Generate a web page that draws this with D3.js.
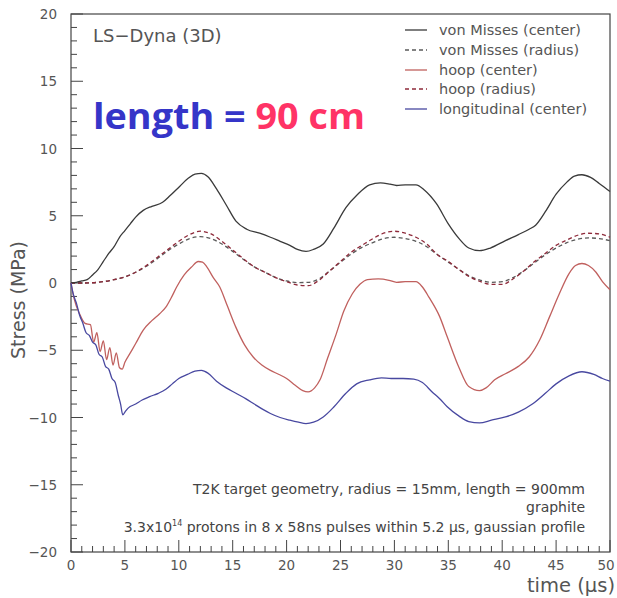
<!DOCTYPE html>
<html><head><meta charset="utf-8">
<script src="https://cdn.jsdelivr.net/npm/d3@7/dist/d3.min.js"></script>
<style>body{margin:0;background:#fff}svg{display:block}</style>
</head><body><svg id="c" width="617" height="598"></svg>
<script>
const seriesNames = ["von Misses (center)","von Misses (radius)","hoop (center)","hoop (radius)","longitudinal (center)"];
const xTicks = [0,5,10,15,20,25,30,35,40,45,50];
const yTicks = [-20,-15,-10,-5,0,5,10,15,20];

const vmCenterT = [0,0.5,1,1.5,2,2.5,3,3.5,4,4.5,5,5.5,6,6.7,7.5,8.5,9.2,10.1,10.9,11.5,12.1,12.7,13.5,14.4,15.3,16.3,17.5,18.5,19.4,20.3,21,21.8,22.5,23.4,24.4,25.5,26.6,27.7,28.7,29.6,30.2,31,32,32.8,33.9,35,36,36.9,37.9,38.9,40.3,41.5,42.5,43.1,44,45,46,46.7,47.4,48.2,49,50];
const vmCenterV = [0,0.05,0.15,0.25,0.6,1.0,1.6,2.2,2.7,3.4,3.9,4.4,4.9,5.4,5.7,6.0,6.5,7.2,7.8,8.1,8.15,7.9,7.0,5.8,4.6,4.0,3.7,3.4,3.1,2.8,2.5,2.35,2.5,2.9,4.1,5.6,6.6,7.3,7.45,7.35,7.25,7.3,7.3,6.9,5.9,4.4,3.3,2.6,2.4,2.6,3.15,3.6,4.0,4.3,5.3,6.6,7.5,7.95,8.05,7.85,7.4,6.8];

const radT = [0,1,2,3,4,5,6,7,8,9,10,11,12,13,14,15,16,17,18,19,20,21,22,23,24,25,26,27,28,29,30,31,32,33,34,35,36,37,38,39,40,41,42,43,44,45,46,47,48,49,50];
const vmRadiusV = [0,0,0.02,0.1,0.25,0.45,0.8,1.25,1.8,2.4,2.9,3.3,3.45,3.3,2.9,2.35,1.75,1.2,0.8,0.4,0.15,0.03,0.05,0.3,0.9,1.55,2.15,2.65,3.0,3.3,3.4,3.3,3.1,2.7,2.1,1.55,1.0,0.5,0.2,0.05,0.1,0.4,0.9,1.5,2.1,2.6,3.0,3.25,3.35,3.3,3.15];
const hoopRadiusV = [0,0,0.02,0.1,0.25,0.45,0.8,1.3,1.9,2.5,3.1,3.6,3.85,3.65,3.1,2.45,1.8,1.2,0.8,0.4,0.1,-0.15,-0.2,0.2,0.9,1.6,2.3,2.8,3.3,3.7,3.85,3.7,3.4,2.9,2.1,1.6,1.0,0.45,0.1,-0.1,-0.1,0.3,0.9,1.6,2.2,2.8,3.2,3.55,3.7,3.65,3.4];

const hoopCenterT = [0,0.3,0.8,1.3,1.8,2.1,2.4,2.7,3.0,3.3,3.6,3.9,4.2,4.5,4.75,5.0,5.5,6.0,6.7,7.5,8.2,8.8,9.3,9.8,10.5,11.2,11.8,12.2,12.6,13.2,13.8,14.5,15.3,16.1,16.9,17.7,18.5,19.3,20,20.8,21.5,22,22.6,23.1,23.8,24.6,25.3,26.1,26.8,27.5,28.5,29.5,30.2,31,32,32.6,33.2,34.2,34.9,36,36.9,37.9,38.5,39.3,40.3,41.5,42.5,43.5,44.4,45.3,46.2,46.8,47.4,48,48.7,49.3,50];
const hoopCenterV = [0,-1.2,-2.3,-3.0,-3.1,-4.4,-3.7,-5.1,-4.3,-5.7,-4.8,-6.1,-5.2,-6.3,-6.4,-5.9,-5.2,-4.5,-3.5,-2.8,-2.3,-1.8,-1.1,-0.3,0.6,1.2,1.6,1.55,1.2,0.4,-0.3,-1.7,-3.3,-4.6,-5.5,-6.1,-6.5,-6.8,-7.1,-7.6,-8.0,-8.1,-7.8,-7.2,-5.6,-3.8,-2.1,-0.8,-0.1,0.25,0.3,0.2,0.05,0.1,0.1,-0.3,-1.05,-2.5,-4.0,-6.3,-7.7,-8.0,-7.8,-7.2,-6.75,-6.2,-5.5,-4.2,-2.5,-0.8,0.7,1.3,1.45,1.3,0.8,0.1,-0.5];

const longT = [0,0.2,0.5,0.8,1.1,1.4,1.7,2.0,2.3,2.6,2.9,3.2,3.5,3.8,4.1,4.4,4.6,4.8,5.0,5.3,6.0,6.6,7.3,8.1,8.8,9.4,10,10.8,11.5,12.1,12.7,13.5,14.4,15.3,16.2,17,17.8,18.5,19.4,20.3,21.1,21.8,22.5,23.4,24.4,25.5,26.5,27.7,28.8,29.7,30.8,31.8,32.6,33.5,34.2,34.9,36,36.9,37.9,39,40.3,41.5,42.8,44,45,46.2,47.4,48.5,49.3,50];
const longV = [0,-0.8,-1.5,-2.4,-3.0,-3.7,-3.9,-4.4,-4.6,-5.3,-5.5,-6.2,-6.4,-7.1,-7.4,-8.4,-9.0,-9.8,-9.6,-9.3,-9.0,-8.7,-8.45,-8.2,-7.9,-7.5,-7.1,-6.8,-6.55,-6.5,-6.7,-7.3,-7.8,-8.2,-8.6,-9.0,-9.4,-9.7,-10.0,-10.2,-10.35,-10.45,-10.35,-9.96,-9.2,-8.2,-7.5,-7.2,-7.05,-7.1,-7.1,-7.15,-7.4,-8.1,-8.6,-9.2,-9.9,-10.3,-10.4,-10.2,-9.96,-9.6,-9.0,-8.2,-7.5,-6.9,-6.6,-6.8,-7.1,-7.3];

const seriesColors = ["#3a3a3a","#5a5a5a","#c0605e","#8e2a3a","#4848a0"];
const seriesDash = [null,"4,3",null,"4,3",null];

const svg = d3.select("#c");
const L=71,R=610,T=14,B=552;
const x = d3.scaleLinear().domain([0,50]).range([L,R]);
const y = d3.scaleLinear().domain([-20,20]).range([B,T]);
const gray="#555";
const font="'DejaVu Sans', Verdana, sans-serif";

// frame
svg.append("rect").attr("x",L).attr("y",T).attr("width",R-L).attr("height",B-T)
  .attr("fill","none").attr("stroke","#444").attr("stroke-width",1.2);

// ticks (inward)
const gx = svg.append("g");
d3.range(0,51,1).forEach(v=>{
  const major = v%5===0;
  gx.append("line").attr("x1",x(v)).attr("x2",x(v)).attr("y1",B).attr("y2",B-(major?12:6))
    .attr("stroke","#444").attr("stroke-width",1);
});
d3.range(-20,21,1).forEach(v=>{
  const major = v%5===0;
  gx.append("line").attr("y1",y(v)).attr("y2",y(v)).attr("x1",L).attr("x2",L+(major?12:6))
    .attr("stroke","#444").attr("stroke-width",1);
});
xTicks.forEach(v=>{
  svg.append("text").attr("x",Math.min(x(v),606)).attr("y",B+18).attr("text-anchor","middle")
    .attr("font-family",font).attr("font-size",13.5).attr("fill",gray).text(v);
});
yTicks.forEach(v=>{
  svg.append("text").attr("x",57).attr("y",y(v)+5).attr("text-anchor","end")
    .attr("font-family",font).attr("font-size",13.5).attr("fill",gray).text(v===0?"0":(v<0?"\u2212"+(-v):v));
});
svg.append("text").attr("x",615).attr("y",592).attr("text-anchor","end")
  .attr("font-family",font).attr("font-size",19.5).attr("fill",gray).text("time (\u03bcs)");
svg.append("text").attr("transform","translate(25,300) rotate(-90)").attr("text-anchor","middle")
  .attr("font-family",font).attr("font-size",19).attr("fill",gray).text("Stress (MPa)");

// lines
const line = d3.line().x(d=>x(d[0])).y(d=>y(d[1])).curve(d3.curveMonotoneX);
const data = [
  d3.zip(vmCenterT, vmCenterV),
  d3.zip(radT, vmRadiusV),
  d3.zip(hoopCenterT, hoopCenterV),
  d3.zip(radT, hoopRadiusV),
  d3.zip(longT, longV)
];
const order=[1,3,0,2,4];
order.forEach(i=>{
  svg.append("path").attr("d",line(data[i])).attr("fill","none")
    .attr("stroke",seriesColors[i]).attr("stroke-width",1.3)
    .attr("stroke-dasharray",seriesDash[i]);
});

// legend
const legY=[30,50,70,89,109];
seriesNames.forEach((n,i)=>{
  svg.append("line").attr("x1",405).attr("x2",427).attr("y1",legY[i]).attr("y2",legY[i])
    .attr("stroke",seriesColors[i]).attr("stroke-width",1.3).attr("stroke-dasharray",seriesDash[i]);
  svg.append("text").attr("x",439).attr("y",legY[i]+5).attr("font-family",font)
    .attr("font-size",14.5).attr("fill",gray).text(n);
});

// titles
svg.append("text").attr("x",93).attr("y",42).attr("font-family",font).attr("font-size",18)
  .attr("fill",gray).text("LS\u2212Dyna (3D)");
const big = svg.append("text").attr("x",93).attr("y",129).attr("font-family","'Open Sans', sans-serif")
  .attr("font-weight","bold").attr("font-size",36).attr("textLength",272).attr("lengthAdjust","spacingAndGlyphs");
big.append("tspan").attr("fill","#3535c8").text("length = ");
big.append("tspan").attr("fill","#ff3366").text("90 cm");

// annotations
svg.append("text").attr("x",585).attr("y",494).attr("text-anchor","end").attr("font-family",font)
  .attr("font-size",14).attr("fill","#444").text("T2K target geometry, radius = 15mm, length = 900mm");
svg.append("text").attr("x",585).attr("y",512).attr("text-anchor","end").attr("font-family",font)
  .attr("font-size",14).attr("fill","#444").text("graphite");
const a3 = svg.append("text").attr("x",585).attr("y",532).attr("text-anchor","end").attr("font-family",font)
  .attr("font-size",14).attr("fill","#444");
a3.append("tspan").text("3.3x10");
a3.append("tspan").attr("font-size",8).attr("dy",-6).text("14");
a3.append("tspan").attr("dy",6).text(" protons in 8 x 58ns pulses within 5.2 \u03bcs, gaussian profile");
</script></body></html>
